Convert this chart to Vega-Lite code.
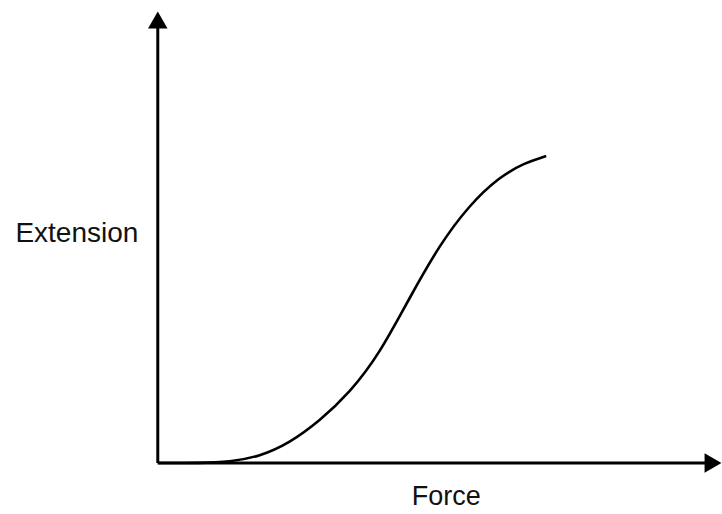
{
  "$schema": "https://vega.github.io/schema/vega-lite/v6.json",
  "width": 722,
  "height": 514,
  "padding": 0,
  "autosize": {"type": "fit", "contains": "padding"},
  "background": "white",
  "config": {"view": {"stroke": null}},
  "datasets": {
    "curve": [
      {"Force": 0.0, "Extension": 0.0},
      {"Force": 0.42, "Extension": 0.0},
      {"Force": 0.72, "Extension": 0.01},
      {"Force": 1.02, "Extension": 0.065},
      {"Force": 1.32, "Extension": 0.20},
      {"Force": 1.62, "Extension": 0.42},
      {"Force": 1.92, "Extension": 0.70},
      {"Force": 2.22, "Extension": 1.09},
      {"Force": 2.52, "Extension": 1.65},
      {"Force": 2.82, "Extension": 2.18},
      {"Force": 3.12, "Extension": 2.58},
      {"Force": 3.42, "Extension": 2.86},
      {"Force": 3.67, "Extension": 3.00},
      {"Force": 3.89, "Extension": 3.07}
    ],
    "axes": [
      {"axis": "x", "x1": 0, "y1": 0, "x2": 5.55, "y2": 0},
      {"axis": "y", "x1": 0, "y1": 0, "x2": 0, "y2": 4.4}
    ],
    "arrows": [
      {"axis": "x", "x": 5.56, "y": 0, "shape": "triangle-right"},
      {"axis": "y", "x": 0, "y": 4.43, "shape": "triangle-up"}
    ],
    "labels": [
      {"label": "Extension", "x": -0.81, "y": 2.21, "size": 28},
      {"label": "Force", "x": 2.89, "y": -0.42, "size": 27}
    ]
  },
  "layer": [
    {
      "data": {"name": "axes"},
      "mark": {"type": "rule", "color": "black", "strokeWidth": 3},
      "encoding": {
        "x": {"field": "x1", "type": "quantitative", "scale": {"domain": [-1.58, 5.64], "nice": false, "zero": false}, "axis": null},
        "y": {"field": "y1", "type": "quantitative", "scale": {"domain": [-0.51, 4.63], "nice": false, "zero": false}, "axis": null},
        "x2": {"field": "x2"},
        "y2": {"field": "y2"}
      }
    },
    {
      "data": {"name": "arrows"},
      "mark": {"type": "point", "filled": true, "color": "black", "opacity": 1, "size": 380},
      "encoding": {
        "x": {"field": "x", "type": "quantitative"},
        "y": {"field": "y", "type": "quantitative"},
        "shape": {"field": "shape", "type": "nominal", "scale": null, "legend": null}
      }
    },
    {
      "data": {"name": "curve"},
      "mark": {"type": "line", "color": "black", "strokeWidth": 2.6, "interpolate": "basis"},
      "encoding": {
        "x": {"field": "Force", "type": "quantitative"},
        "y": {"field": "Extension", "type": "quantitative"}
      }
    },
    {
      "data": {"name": "labels"},
      "mark": {"type": "text", "font": "Liberation Sans", "color": "#111", "align": "center", "baseline": "alphabetic"},
      "encoding": {
        "x": {"field": "x", "type": "quantitative"},
        "y": {"field": "y", "type": "quantitative"},
        "text": {"field": "label"},
        "size": {"field": "size", "type": "quantitative", "scale": null, "legend": null}
      }
    }
  ]
}
